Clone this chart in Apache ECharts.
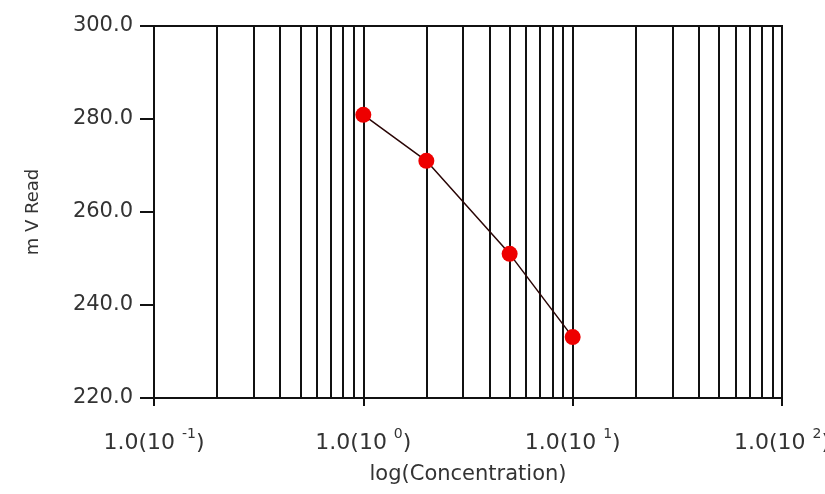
<!DOCTYPE html>
<html>
<head>
<meta charset="utf-8">
<script src="https://cdn.jsdelivr.net/npm/echarts@6/dist/echarts.min.js"></script>
<style>html,body{margin:0;padding:0;background:#fff;}#c{width:825px;height:494px;}</style>
</head>
<body>
<div id="c"></div>
<script>
// Data
var concentration = [1, 2, 5, 10];
var mvRead = [280.9, 271.0, 251.0, 233.1];

// Axis settings
var xMin = 0.1, xMax = 100;
var yMin = 220, yMax = 300, yStep = 20;
// Minor vertical grid lines (2..9 within each decade)
var minorGrid = [0.2,0.3,0.4,0.5,0.6,0.7,0.8,0.9, 2,3,4,5,6,7,8,9, 20,30,40,50,60,70,80,90];

var FONT = 'DejaVu Sans';
var chart = echarts.init(document.getElementById('c'));
chart.setOption({
  animation: false,
  backgroundColor: '#fff',
  grid: { left: 154, right: 43, top: 26, bottom: 96, containLabel: false, outerBoundsMode: 'none',
          show: true, borderColor: '#111', borderWidth: 2, backgroundColor: 'transparent' },
  xAxis: {
    type: 'log', logBase: 10, min: xMin, max: xMax,
    name: 'log(Concentration)', nameLocation: 'middle', nameGap: 66,
    nameTextStyle: { fontFamily: FONT, fontSize: 21, color: '#333' },
    axisLine: { lineStyle: { color: '#111', width: 2 } },
    axisTick: { show: true, length: 8, lineStyle: { color: '#111', width: 2 } },
    splitLine: { show: true, lineStyle: { color: '#111', width: 2 } },
    axisLabel: {
      margin: 29,
      formatter: function (v) {
        var e = Math.round(Math.log10(v));
        return '{b|1.0(10 }{s|' + e + '}{b|)}';
      },
      rich: {
        b: { fontFamily: FONT, fontSize: 22, color: '#333', lineHeight: 27, verticalAlign: 'bottom' },
        s: { fontFamily: FONT, fontSize: 14, color: '#333', lineHeight: 15, verticalAlign: 'top' }
      }
    }
  },
  yAxis: {
    type: 'value', min: yMin, max: yMax, interval: yStep,
    name: 'm V Read', nameLocation: 'middle', nameGap: 112, nameRotate: 90,
    nameTextStyle: { fontFamily: FONT, fontSize: 18, color: '#333' },
    axisLine: { show: true, lineStyle: { color: '#111', width: 2 } },
    axisTick: { show: true, length: 14, lineStyle: { color: '#111', width: 2 } },
    splitLine: { show: false },
    axisLabel: {
      margin: 21, fontFamily: FONT, fontSize: 21, color: '#333',
      formatter: function (v) { return v.toFixed(1); }
    }
  },
  series: [{
    type: 'line',
    data: concentration.map(function (c, i) { return [c, mvRead[i]]; }),
    symbol: 'circle', symbolSize: 16,
    itemStyle: { color: '#ee0000' },
    lineStyle: { color: '#2a0606', width: 1.5 },
    z: 5,
    markLine: {
      silent: true, symbol: 'none', animation: false,
      label: { show: false },
      lineStyle: { color: '#111', width: 2, type: 'solid' },
      data: minorGrid.map(function (m) { return { xAxis: m }; }),
      z: 1
    }
  }]
});
</script>
</body>
</html>
